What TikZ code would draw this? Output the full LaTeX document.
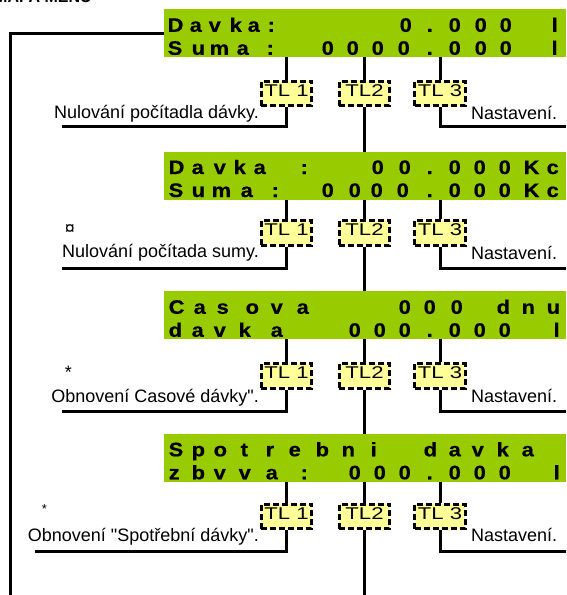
\documentclass[tikz,border=0pt]{standalone}
\usepackage{fontspec}
\setmainfont{Liberation Sans}
\newfontfamily\lcdfont[FakeStretch=1.12, BoldFeatures={FakeStretch=1.12, FakeBold=0.6}]{Liberation Sans}
\newfontfamily\tlfont[FakeStretch=1.3]{Liberation Sans}
\newcommand\lcdchars[1]{\foreach \lx/\lc in {#1}{\makebox[0pt][l]{\hspace*{\lx pt}\lc}}}
\definecolor{lcdgreen}{RGB}{153,204,0}
\definecolor{tlyellow}{RGB}{255,255,153}
\begin{document}
\begin{tikzpicture}[x=1pt,y=-1pt,
  lcd/.style={fill=lcdgreen, draw=none, minimum width=402pt, minimum height=48pt, anchor=north west, inner sep=0pt},
  lcdrow/.style={anchor=base west, inner sep=0pt, font=\lcdfont\bfseries\fontsize{19.5}{19.5}\selectfont},
  tlbox/.style={draw, fill=tlyellow, line width=2.8pt, dash pattern=on 6pt off 3pt, minimum width=50.5pt, minimum height=24.5pt, inner sep=0pt, text depth=6pt, font=\tlfont\fontsize{17}{17}\selectfont},
  conn/.style={line width=3pt},
  lbl/.style={font=\fontsize{18}{18}\selectfont, inner sep=0pt},
  symb/.style={font=\fontsize{18}{18}\selectfont, inner sep=0pt},
]
\useasboundingbox (0,0) rectangle (566,595);

% title (clipped at top, as in the reference)
\node[anchor=base west, font=\bfseries\fontsize{16}{16}\selectfont, inner sep=0pt] (title) at (-6,2.5) {MAPA MENU};

% LCD boxes
\node[lcd] (g1) at (164,9) {};
\node[lcd] (g2) at (164,152) {};
\node[lcd] (g3) at (164,291) {};
\node[lcd] (g4) at (164,434) {};

\node[lcdrow] (g1a) at (164,31.8) {\lcdchars{3/D,25/a,44/v,65/k,83/a,103/:,235/0,262/.,284/0,310/0,335/0,387/l}};
\node[lcdrow] (g1b) at (164,54.8) {\lcdchars{3/S,27/u,45/m,72/a,102/:,157/0,182/0,207/0,233/0,262/.,284/0,310/0,335/0,387/l}};
\node[lcdrow] (g2a) at (164,174) {\lcdchars{4/D,27/a,49/v,69/k,89/a,136/:,207/0,234/0,262/.,284/0,309/0,334/0,359/K,382/c}};
\node[lcdrow] (g2b) at (164,197) {\lcdchars{4/S,27/u,47/m,76/a,107/:,157/0,184/0,206/0,232/0,262/.,284/0,309/0,334/0,359/K,382/c}};
\node[lcdrow] (g3a) at (164,313.8) {\lcdchars{4/C,29/a,52/s,81/o,106/v,132/a,234/0,259/0,286/0,332/d,357/n,382/u}};
\node[lcdrow] (g3b) at (164,336.8) {\lcdchars{4/d,27/a,49/v,74/k,106/a,184/0,209/0,234/0,262/.,284/0,309/0,334/0,389/l}};
\node[lcdrow] (g4a) at (164,456.3) {\lcdchars{4/S,27/p,49/o,76/t,101/r,124/e,151/b,177/n,206/i,259/d,284/a,307/v,332/k,357/a}};
\node[lcdrow] (g4b) at (164,479.3) {\lcdchars{4/z,27/b,49/v,74/v,101/a,136/:,184/0,209/0,234/0,262/.,284/0,309/0,334/0,389/l}};

% TL keys
\node[tlbox] (t11) at (286.5,93.5) {TL 1};
\node[tlbox] (t12) at (364.5,93.5) {TL2};
\node[tlbox] (t13) at (440,93.5) {TL 3};
\node[tlbox] (t21) at (286.5,233) {TL 1};
\node[tlbox] (t22) at (364.5,233) {TL2};
\node[tlbox] (t23) at (440,233) {TL 3};
\node[tlbox] (t31) at (286.5,376) {TL 1};
\node[tlbox] (t32) at (364.5,376) {TL2};
\node[tlbox] (t33) at (440,376) {TL 3};
\node[tlbox] (t41) at (286.5,516.5) {TL 1};
\node[tlbox] (t42) at (364.5,516.5) {TL2};
\node[tlbox] (t43) at (440,516.5) {TL 3};

% labels
\node[lbl, anchor=base east] (n1) at (259,118) {Nulování počítadla dávky.};
\node[lbl, anchor=base east] (n2) at (259,257.5) {Nulování počítada sumy.};
\node[lbl, anchor=base east] (n3) at (259,402.5) {Obnovení Casové dávky\textquotedbl.};
\node[lbl, anchor=base east] (n4) at (259,541.5) {Obnovení \textquotedbl Spotřební dávky\textquotedbl.};
\node[lbl, anchor=base west] (s1) at (471,119) {Nastavení.};
\node[lbl, anchor=base west] (s2) at (471,259) {Nastavení.};
\node[lbl, anchor=base west] (s3) at (471,402.5) {Nastavení.};
\node[lbl, anchor=base west] (s4) at (471,541.5) {Nastavení.};
\node[symb] (m2) at (70,229.5) {¤};
\node[symb] (m3) at (68.5,372) {*};
\node[symb, font=\fontsize{13}{13}\selectfont] (m4) at (44.5,509) {*};

% free ends
\coordinate (l1) at (62,126.5);
\coordinate (l2) at (62,268.5);
\coordinate (l3) at (62,411.5);
\coordinate (l4) at (35,551.5);
\coordinate (r1) at (566,126);
\coordinate (r2) at (566,268.5);
\coordinate (r3) at (566,411);
\coordinate (r4) at (566,551);
\coordinate (bot) at (364.5,596);
\coordinate (lb) at (10,596);

% connectors
\foreach \g/\r in {g1/1,g2/2,g3/3,g4/4}{
  \draw[conn] (\g.south -| t\r1.north) -- (t\r1.north);
  \draw[conn] (\g.south -| t\r2.north) -- (t\r2.north);
  \draw[conn] (\g.south -| t\r3.north) -- (t\r3.north);
  \draw[conn] (t\r1.south) |- (l\r);
  \draw[conn] (t\r3.south) |- (r\r);
}
\draw[conn] (t12.south) -- (t12.south |- g2.north);
\draw[conn] (t22.south) -- (t22.south |- g3.north);
\draw[conn] (t32.south) -- (t32.south |- g4.north);
\draw[conn] (t42.south) -- (bot);
\draw[conn] (g1.west) -| (lb);
\end{tikzpicture}
\end{document}
